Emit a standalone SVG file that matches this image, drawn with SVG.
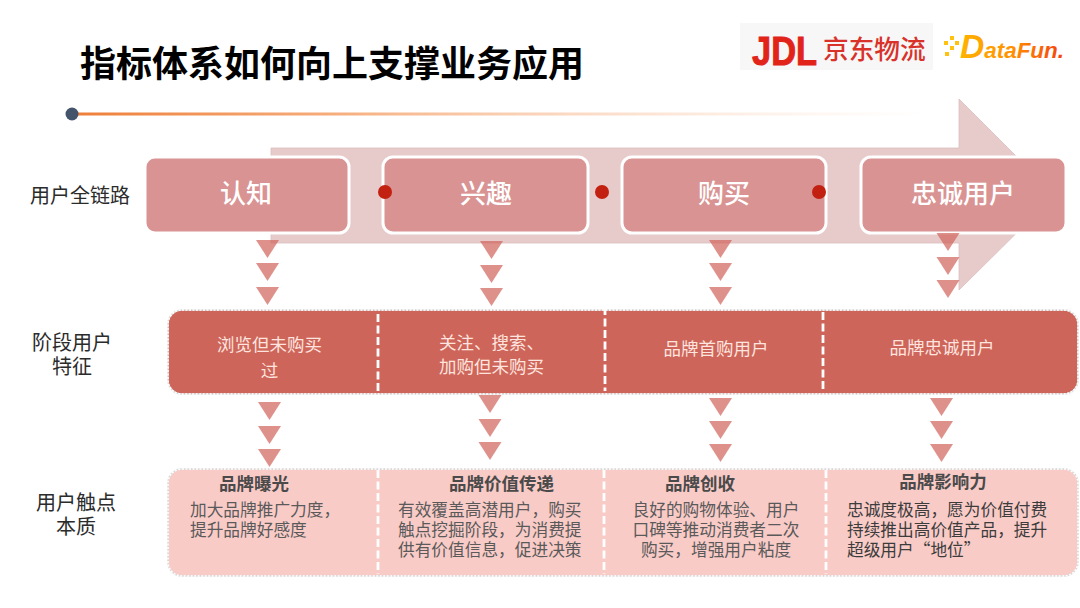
<svg xmlns="http://www.w3.org/2000/svg" width="1080" height="608" viewBox="0 0 1080 608">
<defs>
<linearGradient id="lineGrad" x1="78" x2="930" y1="0" y2="0" gradientUnits="userSpaceOnUse"><stop offset="0" stop-color="#ee7f3a"/><stop offset="0.3" stop-color="#f6ad7c"/><stop offset="1" stop-color="#fbdcc8" stop-opacity="0"/></linearGradient>
<linearGradient id="dfGrad" x1="960" x2="1064" y1="0" y2="0" gradientUnits="userSpaceOnUse"><stop offset="0" stop-color="#ffb300"/><stop offset="0.5" stop-color="#ff9000"/><stop offset="1" stop-color="#f4400f"/></linearGradient>
<polygon id="tri" points="-11.5,0 11.5,0 0,18"/>
</defs>
<style>
text{font-family:"Noto Sans CJK SC","Noto Sans",sans-serif}
.stage rect{fill:#d99393;stroke:#fff;stroke-width:3}
.stage text{fill:#fff;font-size:26px;font-weight:500;text-anchor:middle}
.side{fill:#2b2b2b;font-size:20px;text-anchor:middle}
.tri{fill:#d0635a;opacity:.7}
.dot{fill:#c22010}
.feat{fill:#fde4df;font-size:17.5px;text-anchor:middle}
.head{fill:#4a4a4a;font-size:17.5px;font-weight:700;text-anchor:middle}
.body{fill:#5a5a5a;font-size:16.7px}
.body2{fill:#3c3c3c;font-size:16.7px}
.mid{text-anchor:middle}
.div{stroke:#fff;stroke-width:2.8;stroke-dasharray:8 3.500;fill:none}
.edge0{fill:none;stroke:#d8d8d8;stroke-width:1.5}
.edge{fill:none;stroke:#fff;stroke-width:1.6;stroke-dasharray:2 1.5}
</style>
<rect width="1080" height="608" fill="#fff"/>
<g id="title"><text x="80" y="77" font-size="36" font-weight="700" fill="#000">指标体系如何向上支撑业务应用</text></g>
<g id="logo-jdl">
<rect x="740" y="23" width="193" height="47" fill="#f7f7f7"/>
<text x="752" y="65" font-size="40" font-weight="700" fill="#e2231a" stroke="#e2231a" stroke-width="1" textLength="65" lengthAdjust="spacingAndGlyphs" style="font-family:'Liberation Sans',sans-serif">JDL</text>
<text x="823" y="59" font-size="25.700" font-weight="500" fill="#d8322a">京东物流</text>
</g>
<g id="logo-datafun">
<g fill="#ffc20e"><rect x="944" y="41" width="4" height="4"/><rect x="950" y="36" width="4" height="4"/><rect x="950" y="46" width="4" height="4"/><rect x="945" y="52" width="4" height="4"/><rect x="955" y="41" width="4" height="4"/></g>
<text x="960" y="58" font-size="22" font-weight="700" font-style="italic" fill="url(#dfGrad)" textLength="104" lengthAdjust="spacingAndGlyphs" style="font-family:'Liberation Sans',sans-serif"><tspan font-size="33">D</tspan>ataFun.</text>
</g>
<g id="rule">
<rect x="78" y="112.500" width="852" height="3" fill="url(#lineGrad)"/>
<circle cx="72" cy="114" r="6.500" fill="#44546a"/>
</g>
<g id="journey-arrow"><polygon points="271,148 959,148 959,99 1055,195 959,290 959,243 271,243" fill="#e7cbcb" stroke="#dcbcbc" stroke-width="0.800"/></g>
<g id="side-labels">
<text class="side" x="80" y="203">用户全链路</text>
<text class="side" x="72" y="349.500">阶段用户<tspan x="72" y="374">特征</tspan></text>
<text class="side" x="76" y="509.500">用户触点<tspan x="76" y="534">本质</tspan></text>
</g>
<g id="stage-awareness" class="stage"><rect x="145" y="157" width="204" height="76" rx="10"/><text x="246" y="203">认知</text></g>
<g id="stage-interest" class="stage"><rect x="383" y="157" width="205" height="76" rx="10"/><text x="486" y="203">兴趣</text></g>
<g id="stage-purchase" class="stage"><rect x="622" y="157" width="204" height="76" rx="10"/><text x="724" y="203">购买</text></g>
<g id="stage-loyal" class="stage"><rect x="861" y="157" width="205" height="76" rx="10"/><text x="963" y="203">忠诚用户</text></g>
<g id="connectors">
<circle class="dot" cx="385" cy="192" r="7"/><circle class="dot" cx="602" cy="192" r="7"/><circle class="dot" cx="819" cy="192" r="7"/>
<use href="#tri" class="tri" x="267.500" y="240"/><use href="#tri" class="tri" x="267.500" y="263"/><use href="#tri" class="tri" x="267.500" y="287"/>
<use href="#tri" class="tri" x="491.500" y="241"/><use href="#tri" class="tri" x="491.500" y="265"/><use href="#tri" class="tri" x="491.500" y="288"/>
<use href="#tri" class="tri" x="720.500" y="240"/><use href="#tri" class="tri" x="720.500" y="263"/><use href="#tri" class="tri" x="720.500" y="287"/>
<use href="#tri" class="tri" x="948" y="233"/><use href="#tri" class="tri" x="948" y="257"/><use href="#tri" class="tri" x="948" y="280"/>
<use href="#tri" class="tri" x="269.500" y="402"/><use href="#tri" class="tri" x="269.500" y="426"/><use href="#tri" class="tri" x="269.500" y="449"/>
<use href="#tri" class="tri" x="490" y="395"/><use href="#tri" class="tri" x="490" y="419"/><use href="#tri" class="tri" x="490" y="442"/>
<use href="#tri" class="tri" x="720.500" y="398"/><use href="#tri" class="tri" x="720.500" y="421"/><use href="#tri" class="tri" x="720.500" y="444"/>
<use href="#tri" class="tri" x="941.500" y="398"/><use href="#tri" class="tri" x="941.500" y="421"/><use href="#tri" class="tri" x="941.500" y="444"/>
</g>
<g id="features">
<rect x="168" y="310" width="910" height="84" rx="14" fill="#ce655a"/>
<rect class="edge0" x="168" y="310" width="910" height="84" rx="14"/>
<rect class="edge" x="168" y="310" width="910" height="84" rx="14"/>
<path class="div" d="M378 314V391M605 307V391M823 312V391"/>
</g>
<g id="feature-1"><text class="feat" x="269.500" y="351">浏览但未购买<tspan x="269.500" y="377">过</tspan></text></g>
<g id="feature-2"><text class="feat" x="439" y="349" style="text-anchor:start">关注、搜索、<tspan x="439" y="373">加购但未购买</tspan></text></g>
<g id="feature-3"><text class="feat" x="716" y="355">品牌首购用户</text></g>
<g id="feature-4"><text class="feat" x="942" y="354">品牌忠诚用户</text></g>
<g id="essence">
<rect x="168" y="469" width="910" height="107" rx="14" fill="#f9cbc7"/>
<rect class="edge0" x="168" y="469" width="910" height="107" rx="14"/>
<rect class="edge" x="168" y="469" width="910" height="107" rx="14"/>
<path class="div" d="M378 470V574M604 470V574M826 470V574"/>
</g>
<g id="essence-1"><text class="head" x="254" y="490">品牌曝光</text><text class="body" x="190" y="516">加大品牌推广力度，<tspan x="190" y="536">提升品牌好感度</tspan></text></g>
<g id="essence-2"><text class="head" x="501.500" y="490">品牌价值传递</text><text class="body" x="398" y="516">有效覆盖高潜用户，购买<tspan x="398" y="536">触点挖掘阶段，为消费提</tspan><tspan x="398" y="556">供有价值信息，促进决策</tspan></text></g>
<g id="essence-3"><text class="head" x="700" y="490">品牌创收</text><text class="body mid" x="716" y="516">良好的购物体验、用户<tspan x="716" y="536">口碑等推动消费者二次</tspan><tspan x="716" y="556">购买，增强用户粘度</tspan></text></g>
<g id="essence-4"><text class="head" x="943" y="488">品牌影响力</text><text class="body2" x="847" y="516">忠诚度极高，愿为价值付费<tspan x="847" y="536">持续推出高价值产品，提升</tspan><tspan x="847" y="556">超级用户“地位”</tspan></text></g>
</svg>
